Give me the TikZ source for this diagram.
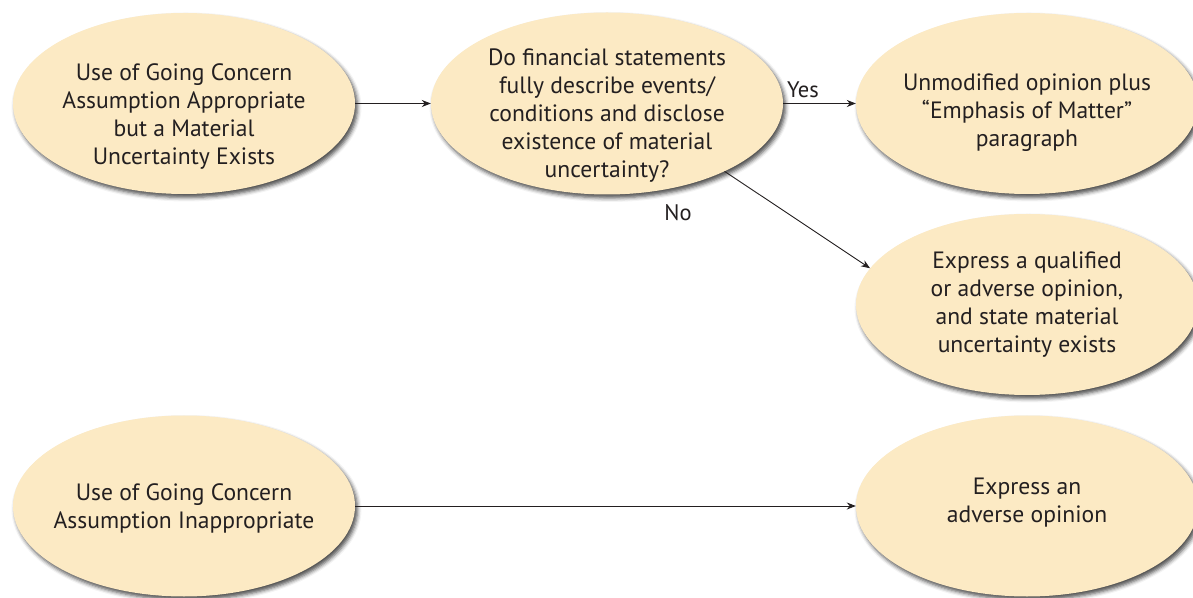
\documentclass[tikz,border=0pt]{standalone}
\usepackage{fontspec}
\setmainfont{PT Sans}
\usetikzlibrary{arrows.meta,shapes.geometric,shadows.blur}

\definecolor{bubblefill}{RGB}{252,234,196}
\definecolor{ink}{RGB}{35,31,32}

\begin{document}
\begin{tikzpicture}[x=1pt,y=1pt,
  bubble/.style={ellipse, fill=bubblefill, draw=none, inner sep=0pt,
    minimum width=342pt, minimum height=181pt,
    blur shadow={shadow xshift=2.5pt, shadow yshift=-3.5pt,
      shadow blur radius=4pt, shadow opacity=70}},
  caption/.style={align=center, text=ink, inner sep=0pt,
    font=\fontsize{23.6}{28}\selectfont},
  tag/.style={text=ink, inner sep=0pt, font=\fontsize{22.5}{26}\selectfont},
  flow/.style={draw=ink, line width=0.9pt, -{Stealth[length=9pt,width=7pt]}}
]
\useasboundingbox (0,0) rectangle (1193,597);

% ellipses
\node[bubble] (goingA) at (184,493.5) {};
\node[bubble, minimum width=352pt, minimum height=182pt] (question) at (607,493.5) {};
\node[bubble] (unmod) at (1027,493.5) {};
\node[bubble] (qualified) at (1027,292.5) {};
\node[bubble] (goingB) at (184,91) {};
\node[bubble] (adverse) at (1027,91) {};

% texts
\node[caption] (goingAtxt) at (184,480) {Use of Going Concern\\Assumption Appropriate\\but a Material\\Uncertainty Exists};
\node[caption] (questiontxt) at (607,481) {Do financial statements\\fully describe events/\\conditions and disclose\\existence of material\\uncertainty?};
\node[caption] (unmodtxt) at (1027,484) {Unmodified opinion plus\\“Emphasis of Matter”\\paragraph};
\node[caption] (qualifiedtxt) at (1027,292) {Express a qualified\\or adverse opinion,\\and state material\\uncertainty exists};
\node[caption] (goingBtxt) at (184,89) {Use of Going Concern\\Assumption Inappropriate};
\node[caption] (adversetxt) at (1027,94.5) {Express an\\adverse opinion};

% connectors
\draw[flow] (goingA) -- (question);
\draw[flow] (question) -- (unmod);
\draw[flow] (question.-30) -- (qualified.167);
\draw[flow] (goingB) -- (adverse);

% branch labels
\node[tag] (yes) at (803,507) {Yes};
\node[tag] (no) at (678,384) {No};
\end{tikzpicture}
\end{document}
